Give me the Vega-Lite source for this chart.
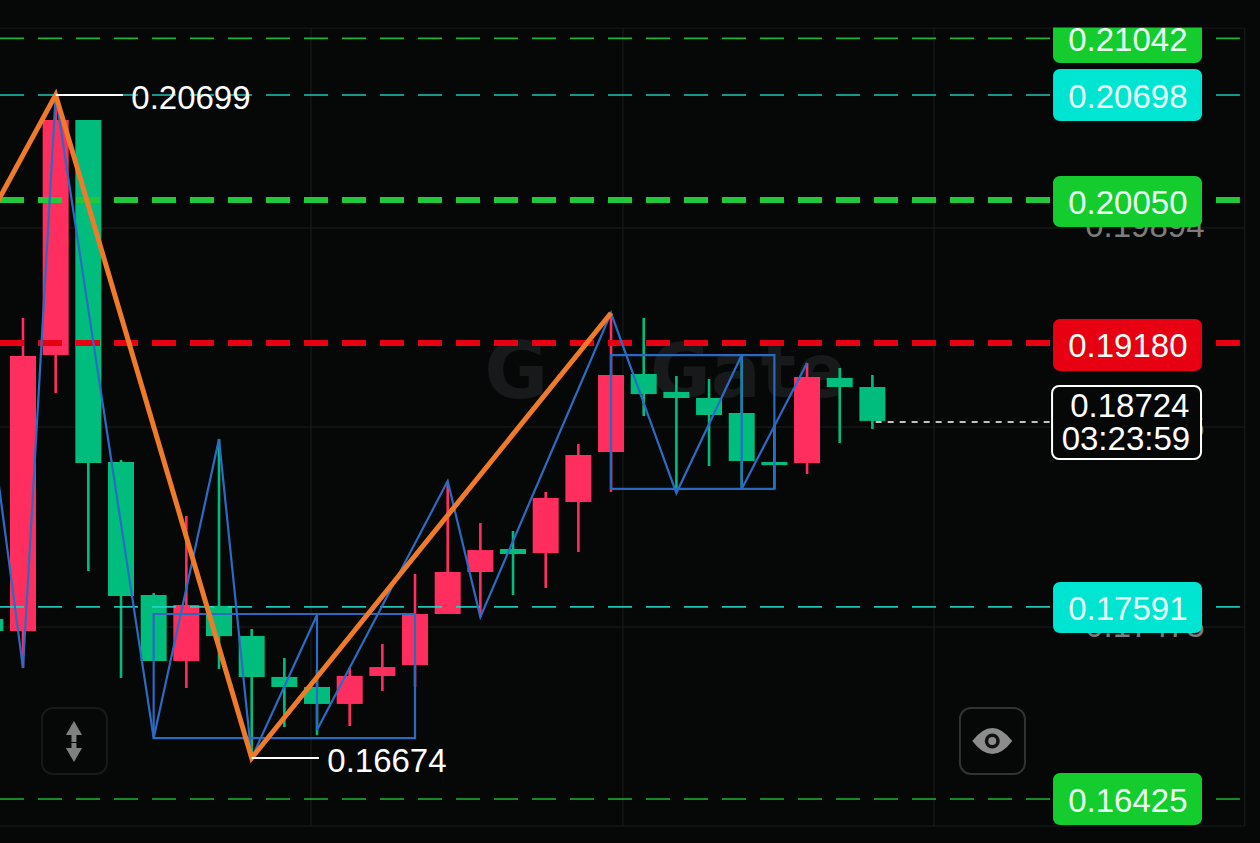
{
"$schema":"https://vega.github.io/schema/vega-lite/v6.json",
"width":1260,"height":843,"padding":0,
"autosize":{"type":"none"},
"background":"#060707",
"config":{"view":{"stroke":null}},
"datasets":{
"candles":[
{"x":-1,"open":0.17518,"close":0.17445,"high":0.17572,"low":0.1739,"side":"down"},
{"x":0,"open":0.17445,"close":0.19114,"high":0.19345,"low":0.1722,"side":"up"},
{"x":1,"open":0.1912,"close":0.20547,"high":0.20698,"low":0.18889,"side":"up"},
{"x":2,"open":0.20547,"close":0.18465,"high":0.20547,"low":0.17809,"side":"down"},
{"x":3,"open":0.18471,"close":0.17657,"high":0.18483,"low":0.1716,"side":"down"},
{"x":4,"open":0.17663,"close":0.17263,"high":0.17675,"low":0.17263,"side":"down"},
{"x":5,"open":0.17263,"close":0.17603,"high":0.18143,"low":0.17099,"side":"up"},
{"x":6,"open":0.17597,"close":0.17414,"high":0.1861,"low":0.17214,"side":"down"},
{"x":7,"open":0.17414,"close":0.17166,"high":0.17457,"low":0.16674,"side":"down"},
{"x":8,"open":0.17166,"close":0.17105,"high":0.17281,"low":0.16862,"side":"down"},
{"x":9,"open":0.17105,"close":0.17002,"high":0.17208,"low":0.16814,"side":"down"},
{"x":10,"open":0.17002,"close":0.17172,"high":0.1722,"low":0.16868,"side":"up"},
{"x":11,"open":0.17172,"close":0.17226,"high":0.17366,"low":0.17081,"side":"up"},
{"x":12,"open":0.17238,"close":0.17548,"high":0.17791,"low":0.17105,"side":"up"},
{"x":13,"open":0.17548,"close":0.17803,"high":0.18355,"low":0.17548,"side":"up"},
{"x":14,"open":0.17803,"close":0.17936,"high":0.181,"low":0.1753,"side":"up"},
{"x":15,"open":0.17943,"close":0.17912,"high":0.18052,"low":0.17663,"side":"down"},
{"x":16,"open":0.17918,"close":0.18252,"high":0.18289,"low":0.17706,"side":"up"},
{"x":17,"open":0.18228,"close":0.18513,"high":0.1858,"low":0.17924,"side":"up"},
{"x":18,"open":0.18531,"close":0.18999,"high":0.19375,"low":0.18289,"side":"up"},
{"x":19,"open":0.19005,"close":0.18883,"high":0.19345,"low":0.1875,"side":"down"},
{"x":20,"open":0.18896,"close":0.18859,"high":0.18993,"low":0.18282,"side":"down"},
{"x":21,"open":0.18859,"close":0.18756,"high":0.18974,"low":0.18446,"side":"down"},
{"x":22,"open":0.18768,"close":0.18477,"high":0.1912,"low":0.18307,"side":"down"},
{"x":23,"open":0.18471,"close":0.18452,"high":0.18695,"low":0.18307,"side":"down"},
{"x":24,"open":0.18465,"close":0.18987,"high":0.19072,"low":0.18398,"side":"up"},
{"x":25,"open":0.18981,"close":0.18926,"high":0.19041,"low":0.18586,"side":"down"},
{"x":26,"open":0.18926,"close":0.1872,"high":0.18999,"low":0.18671,"side":"down"}
],
"levels":[
{"y":0.21042,"x":-0.704,"x2":37.25,"kind":"green","strength":"minor"},
{"y":0.20698,"x":-0.704,"x2":37.25,"kind":"cyan","strength":"minor"},
{"y":0.20061,"x":-0.704,"x2":37.25,"kind":"green","strength":"major"},
{"y":0.19193,"x":-0.704,"x2":37.25,"kind":"red","strength":"major"},
{"y":0.17591,"x":-0.704,"x2":37.25,"kind":"cyan","strength":"minor"},
{"y":0.16425,"x":-0.704,"x2":37.25,"kind":"green","strength":"minor"}
],
"badges":[
{"x":31.53,"x2":36.09,"y":0.21208,"y2":0.20893,"kind":"green"},
{"x":31.53,"x2":36.09,"y":0.20856,"y2":0.20541,"kind":"cyan"},
{"x":31.53,"x2":36.09,"y":0.20207,"y2":0.19897,"kind":"green"},
{"x":31.53,"x2":36.09,"y":0.19339,"y2":0.19023,"kind":"red"},
{"x":31.53,"x2":36.09,"y":0.17742,"y2":0.17433,"kind":"cyan"},
{"x":31.53,"x2":36.09,"y":0.16583,"y2":0.16267,"kind":"green"}
],
"zigzag":[
{"seq":0,"x":-1,"y":0.18726},{"seq":1,"x":0,"y":0.1722},{"seq":2,"x":1,"y":0.20698},{"seq":3,"x":4,"y":0.16795},
{"seq":4,"x":6,"y":0.1861},{"seq":5,"x":7,"y":0.16674},{"seq":6,"x":9,"y":0.17542},{"seq":7,"x":9,"y":0.16844},
{"seq":8,"x":13,"y":0.18355},{"seq":9,"x":14,"y":0.1753},{"seq":10,"x":18,"y":0.19375},{"seq":11,"x":20,"y":0.18282},
{"seq":12,"x":22,"y":0.1912},{"seq":13,"x":22,"y":0.18307},{"seq":14,"x":24,"y":0.19072}
],
"trend":[
{"seq":0,"x":-1,"y":0.1997},{"seq":1,"x":1,"y":0.20699},{"seq":2,"x":7,"y":0.16674},{"seq":3,"x":18,"y":0.19375}
],
"boxes":[
{"x":4,"x2":12,"y":0.17548,"y2":0.16795},
{"x":18,"x2":23,"y":0.1912,"y2":0.18307}
],
"gridV":[
{"x":8.815,"y":0.21105,"y2":0.16261},{"x":18.365,"y":0.21105,"y2":0.16261},
{"x":27.885,"y":0.21105,"y2":0.16261},{"x":37.4,"y":0.21105,"y2":0.16261}
],
"gridH":[
{"y":0.21105,"x":-0.704,"x2":37.4},{"y":0.19891,"x":-0.704,"x2":37.4},{"y":0.18683,"x":-0.704,"x2":37.4},
{"y":0.17469,"x":-0.704,"x2":37.4},{"y":0.16261,"x":-0.704,"x2":37.4}
],
"axisLabels":[
{"x":34.34,"y":0.19903,"label":"0.19894"},
{"x":34.34,"y":0.18683,"label":"0.18686"},
{"x":34.34,"y":0.17475,"label":"0.17475"}
],
"labels":[
{"x":5.14,"y":0.20686,"label":"0.20699","tone":"white"},
{"x":11.14,"y":0.16656,"label":"0.16674","tone":"white"},
{"x":33.82,"y":0.21038,"label":"0.21042","tone":"soft"},
{"x":33.82,"y":0.20692,"label":"0.20698","tone":"soft"},
{"x":33.82,"y":0.20043,"label":"0.20050","tone":"soft"},
{"x":33.82,"y":0.19175,"label":"0.19180","tone":"soft"},
{"x":33.82,"y":0.17584,"label":"0.17591","tone":"soft"},
{"x":33.82,"y":0.16413,"label":"0.16425","tone":"soft"},
{"x":33.88,"y":0.18811,"label":"0.18724","tone":"white"},
{"x":33.76,"y":0.18616,"label":"03:23:59","tone":"white"}
]
},
"encoding":{
"x":{"field":"x","type":"quantitative","axis":null,"scale":{"domain":[-0.704,37.865],"nice":false,"zero":false,"padding":0}},
"y":{"field":"y","type":"quantitative","axis":null,"scale":{"domain":[0.16158,0.21275],"nice":false,"zero":false,"padding":0}}
},
"layer":[
{"data":{"name":"gridV"},"mark":{"type":"rule","stroke":"#1c1e1f","strokeWidth":1},"encoding":{"y2":{"field":"y2"}}},
{"data":{"name":"gridH"},"mark":{"type":"rule","stroke":"#1c1e1f","strokeWidth":1},"encoding":{"x2":{"field":"x2"}}},
{"data":{"values":[{"x":22.2,"y":0.18998,"label":"Gate"}]},"mark":{"type":"text","font":"DejaVu Sans","fontWeight":"bold","fontSize":74,"align":"center","baseline":"middle","fill":"#17191a"},"encoding":{"text":{"field":"label"}}},
{"data":{"values":[{"x":15.1,"y":0.18998,"label":"G"}]},"mark":{"type":"text","font":"DejaVu Sans","fontWeight":"bold","fontSize":78,"align":"center","baseline":"middle","fill":"#17191a"},"encoding":{"text":{"field":"label"}}},
{"data":{"name":"candles"},"mark":{"type":"rule","strokeWidth":2.6,"clip":true},"encoding":{
"y":{"field":"low","type":"quantitative"},"y2":{"field":"high"},
"color":{"field":"side","type":"nominal","legend":null,"scale":{"domain":["up","down"],"range":["#FF2E5F","#00BD7D"]}}}},
{"data":{"name":"candles"},"mark":{"type":"bar","size":26,"clip":true},"encoding":{
"y":{"field":"open","type":"quantitative"},"y2":{"field":"close"},
"color":{"field":"side","type":"nominal","legend":null,"scale":{"domain":["up","down"],"range":["#FF2E5F","#00BD7D"]}}}},
{"data":{"name":"levels"},"transform":[{"filter":"datum.strength == 'minor'"}],"mark":{"type":"rule","strokeWidth":1.6,"strokeDash":[24,14],"opacity":0.9},"encoding":{"x2":{"field":"x2"},"stroke":{"field":"kind","type":"nominal","legend":null,"scale":{"domain":["green","cyan","red"],"range":["#22C83A","#22D8C8","#E60012"]}}}},
{"data":{"name":"levels"},"transform":[{"filter":"datum.strength == 'major'"}],"mark":{"type":"rule","strokeWidth":6,"strokeDash":[24,14]},"encoding":{"x2":{"field":"x2"},"stroke":{"field":"kind","type":"nominal","legend":null,"scale":{"domain":["green","cyan","red"],"range":["#22C83A","#22D8C8","#E60012"]}}}},
{"data":{"name":"boxes"},"mark":{"type":"rect","fill":"transparent","stroke":"#2A69C0","strokeWidth":2.2},"encoding":{"x2":{"field":"x2"},"y2":{"field":"y2"}}},
{"data":{"name":"zigzag"},"mark":{"type":"line","stroke":"#2A6CC4","strokeWidth":2.2,"clip":true},"encoding":{"order":{"field":"seq","type":"ordinal"}}},
{"data":{"name":"trend"},"mark":{"type":"line","stroke":"#EE7A2A","strokeWidth":5,"clip":true},"encoding":{"order":{"field":"seq","type":"ordinal"}}},
{"data":{"values":[{"x":1,"x2":3.06,"y":0.20699},{"x":7,"x2":9.06,"y":0.16674}]},"mark":{"type":"rule","stroke":"#FFFFFF","strokeWidth":2},"encoding":{"x2":{"field":"x2"}}},
{"data":{"values":[{"x":26.1,"x2":31.45,"y":0.18713}]},"mark":{"type":"rule","stroke":"#FFFFFF","strokeWidth":1.5,"strokeDash":[6,6]},"encoding":{"x2":{"field":"x2"}}},
{"data":{"name":"axisLabels"},"mark":{"type":"text","font":"Liberation Sans","fontSize":33,"align":"center","baseline":"middle","dy":1,"fill":"#7c7c7c"},"encoding":{"text":{"field":"label"}}},
{"data":{"name":"badges"},"mark":{"type":"rect","cornerRadius":7},"encoding":{"x2":{"field":"x2"},"y2":{"field":"y2"},"fill":{"field":"kind","type":"nominal","legend":null,"scale":{"domain":["green","cyan","red"],"range":["#14CC2E","#00E4D2","#E60012"]}}}},
{"data":{"values":[{"x":31.5,"x2":36.06,"y":0.18932,"y2":0.18489}]},"mark":{"type":"rect","cornerRadius":7,"fill":"#060707","stroke":"#FFFFFF","strokeWidth":2},"encoding":{"x2":{"field":"x2"},"y2":{"field":"y2"}}},
{"data":{"name":"labels"},"transform":[{"filter":"datum.tone == 'white'"}],"mark":{"type":"text","font":"Liberation Sans","fontSize":33,"align":"center","baseline":"middle","dy":1.5,"fill":"#FFFFFF"},"encoding":{"text":{"field":"label"}}},
{"data":{"name":"labels"},"transform":[{"filter":"datum.tone == 'soft'"}],"mark":{"type":"text","font":"Liberation Sans","fontSize":33,"align":"center","baseline":"middle","dy":1.5,"fill":"#EAFFF4"},"encoding":{"text":{"field":"label"}}},
{"data":{"values":[{"x":0.58,"x2":2.57,"y":0.16977,"y2":0.16577}]},"mark":{"type":"rect","fill":"transparent","stroke":"#17191a","strokeWidth":2,"cornerRadius":11},"encoding":{"x2":{"field":"x2"},"y2":{"field":"y2"}}},
{"data":{"values":[{"x":28.68,"x2":30.67,"y":0.16977,"y2":0.16577}]},"mark":{"type":"rect","fill":"transparent","stroke":"#303233","strokeWidth":2,"cornerRadius":11},"encoding":{"x2":{"field":"x2"},"y2":{"field":"y2"}}},
{"data":{"values":[{"x":1.56,"y":0.16856,"y2":0.16771},{"x":1.56,"y":0.16765,"y2":0.16692}]},"mark":{"type":"rule","stroke":"#808080","strokeWidth":5},"encoding":{"y2":{"field":"y2"}}},
{"data":{"values":[{"x":1.56,"y":0.16856}]},"mark":{"type":"point","shape":"triangle-up","size":260,"filled":true,"fill":"#808080","opacity":1}},
{"data":{"values":[{"x":1.56,"y":0.16692}]},"mark":{"type":"point","shape":"triangle-down","size":260,"filled":true,"fill":"#808080","opacity":1}},
{"data":{"values":[{"x":29.67,"y":0.16777}]},"mark":{"type":"point","shape":"M-1,0 Q-0.5,-0.65 0,-0.65 Q0.5,-0.65 1,0 Q0.5,0.65 0,0.65 Q-0.5,0.65 -1,0 Z","size":1600,"filled":true,"fill":"#8c8c8c","opacity":1}},
{"data":{"values":[{"x":29.67,"y":0.16777}]},"mark":{"type":"point","shape":"circle","size":225,"filled":true,"fill":"#101111","opacity":1}},
{"data":{"values":[{"x":29.67,"y":0.16777}]},"mark":{"type":"point","shape":"circle","size":64,"filled":true,"fill":"#8c8c8c","opacity":1}},
{"data":{"values":[{"x":-0.704,"x2":37.865,"y":0.21275,"y2":0.21108}]},"mark":{"type":"rect","fill":"#060707"},"encoding":{"x2":{"field":"x2"},"y2":{"field":"y2"}}}
]
}
